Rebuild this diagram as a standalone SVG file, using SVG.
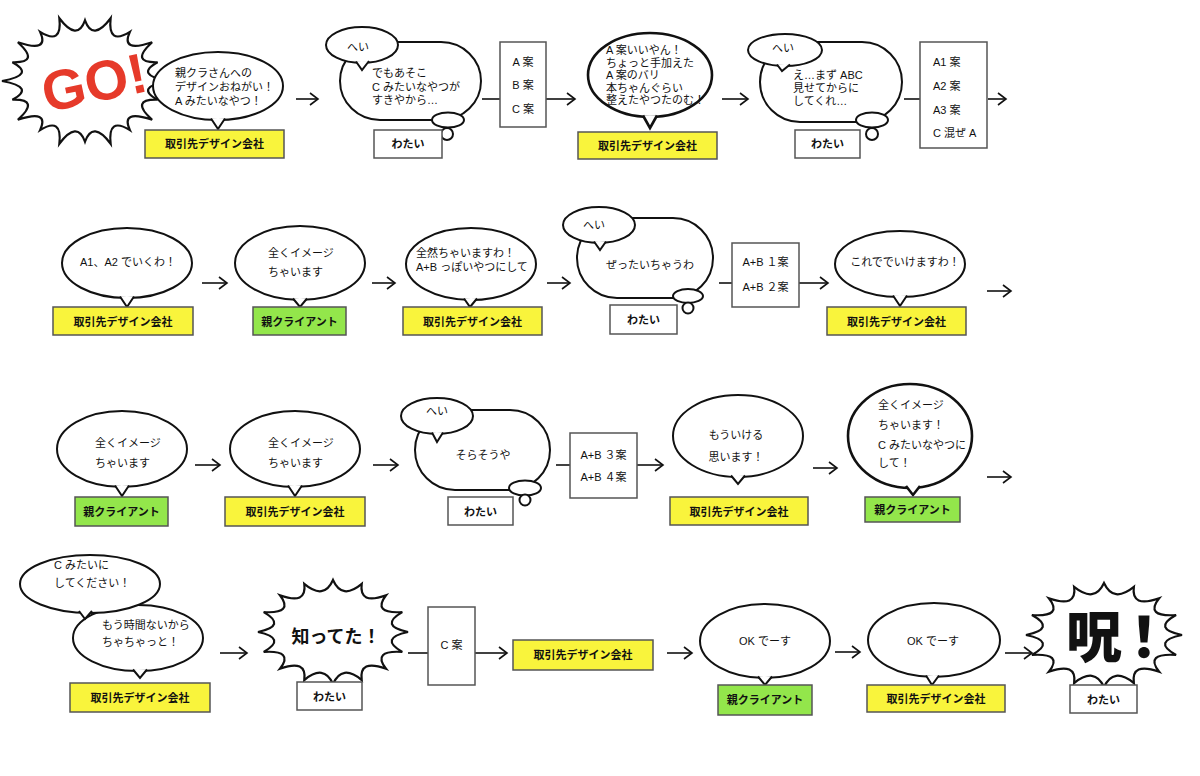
<svg xmlns="http://www.w3.org/2000/svg" xmlns:xlink="http://www.w3.org/1999/xlink" width="1200" height="776" viewBox="0 0 1200 776">
<style>
.b{fill:#fff;stroke:#111;stroke-width:2}
.bt{fill:#fff;stroke:#111;stroke-width:2.6}
.y{fill:#f9f43c;stroke:#555;stroke-width:1.5}
.g{fill:#93e64b;stroke:#555;stroke-width:1.5}
.w{fill:#fff;stroke:#555;stroke-width:1.5}
.burst{fill:#fff;stroke:#111;stroke-width:2.2}
text{font-family:'Liberation Sans','Noto Sans CJK JP',sans-serif;font-size:11px;fill:#111}
.m{text-anchor:middle}
.lb{text-anchor:middle;font-weight:bold;font-size:11px}
#connectors line{stroke:#111;stroke-width:1.6}
</style>
<defs>
<marker id="ah" markerUnits="userSpaceOnUse" markerWidth="12" markerHeight="14" refX="9" refY="7" orient="auto"><path d="M1,1 L9,7 L1,13" fill="none" stroke="#111" stroke-width="1.6"/></marker>
<path id="burst16" vector-effect="non-scaling-stroke" d="M100,0 Q60.8,12.1 92.4,38.3 Q51.5,34.5 70.7,70.7 Q34.5,51.5 38.3,92.4 Q12.1,60.8 0,100 Q-12.1,60.8 -38.3,92.4 Q-34.5,51.5 -70.7,70.7 Q-51.5,34.5 -92.4,38.3 Q-60.8,12.1 -100,0 Q-60.8,-12.1 -92.4,-38.3 Q-51.5,-34.5 -70.7,-70.7 Q-34.5,-51.5 -38.3,-92.4 Q-12.1,-60.8 0,-100 Q12.1,-60.8 38.3,-92.4 Q34.5,-51.5 70.7,-70.7 Q51.5,-34.5 92.4,-38.3 Q60.8,-12.1 100,0 Z"/>
<path id="burst20" vector-effect="non-scaling-stroke" d="M100,0 Q59.3,9.4 87.5,28.4 Q53.5,27.2 80.9,58.8 Q42.4,42.4 54.1,74.4 Q27.2,53.5 30.9,95.1 Q9.4,59.3 0,92 Q-9.4,59.3 -30.9,95.1 Q-27.2,53.5 -54.1,74.4 Q-42.4,42.4 -80.9,58.8 Q-53.5,27.2 -87.5,28.4 Q-59.3,9.4 -100,0 Q-59.3,-9.4 -87.5,-28.4 Q-53.5,-27.2 -80.9,-58.8 Q-42.4,-42.4 -54.1,-74.4 Q-27.2,-53.5 -30.9,-95.1 Q-9.4,-59.3 0,-92 Q9.4,-59.3 30.9,-95.1 Q27.2,-53.5 54.1,-74.4 Q42.4,-42.4 80.9,-58.8 Q53.5,-27.2 87.5,-28.4 Q59.3,-9.4 100,0 Z"/>
</defs>
<rect width="1200" height="776" fill="#fff"/>

<g id="connectors">
<line x1="296" y1="99" x2="318" y2="99" marker-end="url(#ah)"/>
<line x1="482" y1="99" x2="500" y2="99"/>
<line x1="546" y1="99" x2="575" y2="99" marker-end="url(#ah)"/>
<line x1="722" y1="99" x2="748" y2="99" marker-end="url(#ah)"/>
<line x1="904" y1="99" x2="920" y2="99"/>
<line x1="988" y1="99" x2="1006" y2="99" marker-end="url(#ah)"/>
<line x1="202" y1="283" x2="227" y2="283" marker-end="url(#ah)"/>
<line x1="372" y1="283" x2="395" y2="283" marker-end="url(#ah)"/>
<line x1="547" y1="283" x2="570" y2="283" marker-end="url(#ah)"/>
<line x1="719" y1="283" x2="732" y2="283"/>
<line x1="799" y1="283" x2="828" y2="283" marker-end="url(#ah)"/>
<line x1="987" y1="291" x2="1011" y2="291" marker-end="url(#ah)"/>
<line x1="195" y1="465" x2="220" y2="465" marker-end="url(#ah)"/>
<line x1="373" y1="465" x2="398" y2="465" marker-end="url(#ah)"/>
<line x1="556" y1="465" x2="570" y2="465"/>
<line x1="637" y1="465" x2="663" y2="465" marker-end="url(#ah)"/>
<line x1="813" y1="468" x2="837" y2="468" marker-end="url(#ah)"/>
<line x1="987" y1="477" x2="1011" y2="477" marker-end="url(#ah)"/>
<line x1="220" y1="653" x2="247" y2="653" marker-end="url(#ah)"/>
<line x1="408" y1="653" x2="428" y2="653"/>
<line x1="475" y1="653" x2="507" y2="653" marker-end="url(#ah)"/>
<line x1="667" y1="653" x2="692" y2="653" marker-end="url(#ah)"/>
<line x1="835" y1="652" x2="860" y2="652" marker-end="url(#ah)"/>
<line x1="1005" y1="653" x2="1032" y2="653" marker-end="url(#ah)"/>
</g>

<!-- Row 1 -->
<g id="go">
<use xlink:href="#burst20" href="#burst20" class="burst" transform="translate(85,81) scale(0.83,0.66)"/>
<text x="94" y="102" transform="rotate(-12 94 82)" style="font-family:'Liberation Sans',sans-serif;font-size:56px;font-weight:900;fill:#e63a2a;text-anchor:middle">GO!</text>
</g>

<g id="n1">
<ellipse cx="218" cy="86" rx="65" ry="34" class="b"/>
<path d="M211,118.5 L218,129 L225,118.5" class="b"/>
<text x="175" y="77">親クラさんへの</text>
<text x="175" y="91">デザインおねがい！</text>
<text x="175" y="105">A みたいなやつ！</text>
<rect x="145" y="130" width="139" height="28" class="y"/>
<text x="214.5" y="148" class="lb">取引先デザイン会社</text>
</g>

<g id="n2">
<rect x="340" y="42" width="141" height="78" rx="40" class="b"/>
<ellipse cx="448" cy="120" rx="16" ry="7.5" class="b"/>
<circle cx="447" cy="134" r="6" class="b"/>
<ellipse cx="362" cy="45" rx="36" ry="18" class="b"/>
<path d="M356,61.5 L362,70 L369,61" class="b"/>
<text x="358" y="51" class="m">へい</text>
<text x="372" y="77">でもあそこ</text>
<text x="372" y="91">C みたいなやつが</text>
<text x="372" y="104">すきやから…</text>
<rect x="374" y="130" width="68" height="28" class="w"/>
<text x="408" y="148" class="lb">わたい</text>
</g>

<g id="n3">
<rect x="500" y="42" width="46" height="85" class="w"/>
<text x="523" y="66" class="m">A 案</text>
<text x="523" y="89" class="m">B 案</text>
<text x="523" y="113" class="m">C 案</text>
</g>

<g id="n4">
<ellipse cx="650" cy="75" rx="62" ry="42" class="bt"/>
<path d="M643,115.5 L650,128 L657,115.5" class="bt"/>
<text x="606" y="54">A 案いいやん！</text>
<text x="606" y="66.5">ちょっと手加えた</text>
<text x="606" y="79">A 案のバリ</text>
<text x="606" y="91.5">本ちゃんぐらい</text>
<text x="606" y="104">整えたやつたのむ！</text>
<rect x="578" y="132" width="139" height="27" class="y"/>
<text x="647.5" y="150" class="lb">取引先デザイン会社</text>
</g>

<g id="n5">
<rect x="760" y="42" width="142" height="80" rx="40" class="b"/>
<ellipse cx="872" cy="120" rx="16" ry="7.5" class="b"/>
<circle cx="872" cy="134" r="6" class="b"/>
<ellipse cx="785" cy="50" rx="37" ry="16" class="b"/>
<path d="M777,64.5 L782,71 L790,64.5" class="b"/>
<text x="783" y="52" class="m">へい</text>
<text x="793" y="79">え…まず ABC</text>
<text x="793" y="92">見せてからに</text>
<text x="793" y="105">してくれ…</text>
<rect x="795" y="130" width="65" height="28" class="w"/>
<text x="827.5" y="148" class="lb">わたい</text>
</g>

<g id="n6">
<rect x="920" y="42" width="67" height="106" class="w"/>
<text x="933" y="66">A1 案</text>
<text x="933" y="90">A2 案</text>
<text x="933" y="114">A3 案</text>
<text x="933" y="137">C 混ぜ A</text>
</g>

<!-- Row 2 -->
<g id="n7">
<ellipse cx="127" cy="263" rx="65" ry="35" class="b"/>
<path d="M120,296.5 L127,307 L134,296.5" class="b"/>
<text x="128" y="266" class="m">A1、A2 でいくわ！</text>
<rect x="53" y="307" width="140" height="28" class="y"/>
<text x="123" y="325.5" class="lb">取引先デザイン会社</text>
</g>

<g id="n8">
<ellipse cx="300" cy="263" rx="65" ry="37" class="b"/>
<path d="M293,298.5 L300,307 L307,298.5" class="b"/>
<text x="268" y="257">全くイメージ</text>
<text x="268" y="276">ちゃいます</text>
<rect x="253" y="307" width="93" height="28" class="g"/>
<text x="299.5" y="325.5" class="lb">親クライアント</text>
</g>

<g id="n9">
<ellipse cx="471" cy="264" rx="65" ry="36" class="b"/>
<path d="M464,298.5 L470,307 L477,298.5" class="b"/>
<text x="416" y="257">全然ちゃいますわ！</text>
<text x="416" y="271">A+B っぽいやつにして</text>
<rect x="403" y="307" width="139" height="28" class="y"/>
<text x="472.5" y="325.5" class="lb">取引先デザイン会社</text>
</g>

<g id="n10">
<rect x="577" y="218" width="136" height="80" rx="40" class="b"/>
<ellipse cx="688" cy="296" rx="15" ry="7" class="b"/>
<circle cx="688" cy="308" r="5.5" class="b"/>
<ellipse cx="599" cy="225" rx="36" ry="18" class="b"/>
<path d="M594,241.5 L600,250 L606,241.5" class="b"/>
<text x="594" y="229" class="m">へい</text>
<text x="650" y="269" class="m">ぜったいちゃうわ</text>
<rect x="610" y="305" width="67" height="29" class="w"/>
<text x="643.5" y="324" class="lb">わたい</text>
</g>

<g id="n11">
<rect x="732" y="243" width="67" height="64" class="w"/>
<text x="765.5" y="266" class="m">A+B １案</text>
<text x="765.5" y="291" class="m">A+B ２案</text>
</g>

<g id="n12">
<ellipse cx="900" cy="264" rx="65" ry="33" class="b"/>
<path d="M893,295.5 L900,306 L907,295.5" class="b"/>
<text x="905" y="266" class="m">これででいけますわ！</text>
<rect x="827" y="307" width="139" height="28" class="y"/>
<text x="896.5" y="325.5" class="lb">取引先デザイン会社</text>
</g>

<!-- Row 3 -->
<g id="n13">
<ellipse cx="122" cy="449" rx="65" ry="38" class="b"/>
<path d="M115,485.5 L122,496 L129,485.5" class="b"/>
<text x="95" y="447">全くイメージ</text>
<text x="95" y="467">ちゃいます</text>
<rect x="75" y="497" width="93" height="29" class="g"/>
<text x="121.5" y="516" class="lb">親クライアント</text>
</g>

<g id="n14">
<ellipse cx="295" cy="449" rx="65" ry="38" class="b"/>
<path d="M288,485.5 L295,496 L302,485.5" class="b"/>
<text x="268" y="447">全くイメージ</text>
<text x="268" y="467">ちゃいます</text>
<rect x="225" y="497" width="140" height="29" class="y"/>
<text x="295" y="516" class="lb">取引先デザイン会社</text>
</g>

<g id="n15">
<rect x="415" y="410" width="135" height="80" rx="40" class="b"/>
<ellipse cx="525" cy="488" rx="16" ry="7.5" class="b"/>
<circle cx="525" cy="500" r="5.5" class="b"/>
<ellipse cx="437" cy="416" rx="36" ry="18" class="b"/>
<path d="M432,432.5 L437,442 L443,432.5" class="b"/>
<text x="437" y="415" class="m">へい</text>
<text x="483" y="459" class="m">そらそうや</text>
<rect x="448" y="497" width="65" height="28" class="w"/>
<text x="480.5" y="515.5" class="lb">わたい</text>
</g>

<g id="n16">
<rect x="570" y="433" width="67" height="65" class="w"/>
<text x="603.5" y="459" class="m">A+B ３案</text>
<text x="603.5" y="481" class="m">A+B ４案</text>
</g>

<g id="n17">
<ellipse cx="738" cy="436" rx="65" ry="41" class="b"/>
<path d="M731,475.5 L738,484 L745,475.5" class="b"/>
<text x="736" y="439" class="m">もういける</text>
<text x="736" y="461" class="m">思います！</text>
<rect x="670" y="497" width="138" height="28" class="y"/>
<text x="739" y="515.5" class="lb">取引先デザイン会社</text>
</g>

<g id="n18">
<ellipse cx="910" cy="436" rx="62" ry="52" class="bt"/>
<path d="M906,486 L913,495 L920,486" class="bt"/>
<text x="878" y="409">全くイメージ</text>
<text x="878" y="429">ちゃいます！</text>
<text x="878" y="449">C みたいなやつに</text>
<text x="878" y="467">して！</text>
<rect x="865" y="497" width="95" height="25" class="g"/>
<text x="912.5" y="514" class="lb">親クライアント</text>
</g>

<!-- Row 4 -->
<g id="n19">
<ellipse cx="138" cy="638" rx="65" ry="33" class="b"/>
<path d="M133,669.5 L140,678 L147,669.5" class="b"/>
<ellipse cx="90" cy="584" rx="70" ry="29" class="b"/>
<path d="M79,611 L85,619 L92,611" class="b"/>
<text x="54" y="569">C みたいに</text>
<text x="54" y="587">してください！</text>
<text x="102" y="629">もう時間ないから</text>
<text x="102" y="646">ちゃちゃっと！</text>
<rect x="70" y="683" width="140" height="29" class="y"/>
<text x="140" y="702" class="lb">取引先デザイン会社</text>
</g>

<g id="n20">
<use xlink:href="#burst16" href="#burst16" class="burst" transform="translate(333,632) scale(0.75,0.52)"/>
<text x="336" y="643" class="m" style="font-size:18px;font-weight:bold">知ってた！</text>
<rect x="297" y="682" width="65" height="28" class="w"/>
<text x="329.5" y="700.5" class="lb">わたい</text>
</g>

<g id="n21">
<rect x="428" y="607" width="47" height="78" class="w"/>
<text x="451.5" y="649" class="m">C 案</text>
</g>

<g id="n22">
<rect x="513" y="640" width="140" height="30" class="y"/>
<text x="583" y="659" class="lb">取引先デザイン会社</text>
</g>

<g id="n23">
<ellipse cx="765" cy="641" rx="65" ry="37" class="b"/>
<path d="M758,676.5 L765,685 L772,676.5" class="b"/>
<text x="765" y="645" class="m">OK でーす</text>
<rect x="718" y="685" width="94" height="30" class="g"/>
<text x="765" y="704" class="lb">親クライアント</text>
</g>

<g id="n24">
<ellipse cx="934" cy="640" rx="66" ry="37" class="b"/>
<path d="M926,675.5 L932,685 L939,675.5" class="b"/>
<text x="933" y="645" class="m">OK でーす</text>
<rect x="867" y="685" width="138" height="27" class="y"/>
<text x="936" y="703" class="lb">取引先デザイン会社</text>
</g>

<g id="n25">
<use xlink:href="#burst16" href="#burst16" class="burst" transform="translate(1104,635) scale(0.78,0.52)"/>
<text x="1066" y="657" style="font-family:'Noto Sans CJK JP',sans-serif;font-size:56px;font-weight:900;letter-spacing:-6px">呪！</text>
<rect x="1070" y="685" width="67" height="28" class="w"/>
<text x="1103.5" y="703.5" class="lb">わたい</text>
</g>
</svg>
